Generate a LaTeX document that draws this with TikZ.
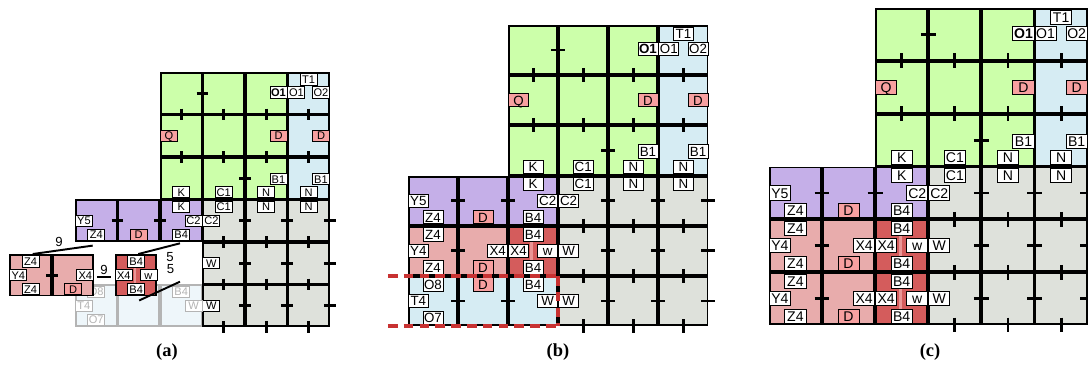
\documentclass[tikz,border=0pt]{standalone}
\usepackage{fontspec}
\setmainfont{Liberation Sans}
\newfontfamily\capfont{Liberation Serif}
\usetikzlibrary{calc}

\definecolor{cgreen}{RGB}{204,255,170}
\definecolor{cblue}{RGB}{214,236,243}
\definecolor{cgray}{RGB}{222,225,219}
\definecolor{cpurple}{RGB}{197,175,232}
\definecolor{cpink}{RGB}{232,172,172}
\definecolor{cred}{RGB}{212,92,92}
\definecolor{cstripe}{RGB}{234,150,150}
\definecolor{chot}{RGB}{247,160,160}
\definecolor{cfade}{RGB}{238,246,250}
\definecolor{cfadeline}{RGB}{180,180,180}
\definecolor{cdash}{RGB}{200,50,50}

\newcommand\cellw{1cm}
\newcommand\lblfs{8}
\newcommand\pfx{x}

\tikzset{
  cellbox/.style={draw=black,line width=1.1pt},
  fadebox/.style={draw=cfadeline,line width=1.1pt,fill=cfade},
  lbl/.style={draw=black,line width=0.5pt,fill=white,inner sep=0.3pt,
    minimum width=0.40*\cellw,minimum height=0.265*\cellw,
    text height={0.72*\lblfs pt},text depth=0pt,
    font=\fontsize{\lblfs}{\lblfs}\selectfont},
  boldlbl/.style={lbl,font=\fontsize{\lblfs}{\lblfs}\selectfont\bfseries},
  hot/.style={lbl,fill=chot},
  faded/.style={lbl,draw=cfadeline,text=cfadeline},
  tickmark/.style={line width=1.6pt},
  link/.style={line width=1.1pt},
  num/.style={font=\fontsize{7.5}{7.5}\selectfont,inner sep=0.5pt},
  dashbox/.style={draw=cdash,line width=2pt,dash pattern=on 5.5pt off 3.5pt},
  caption/.style={font=\capfont\bfseries\fontsize{10.5}{12}\selectfont}
}

% one cell of the grid, inset so that neighbours give a double line
\newcommand\cellat[3]{\filldraw[cellbox,fill=#3] ($(#1,#2)+(0.55pt,-0.55pt)$) rectangle ($(#1,#2)+(1,1)+(-0.55pt,0.55pt)$);}
\newcommand\fadecell[2]{\filldraw[fadebox] ($(#1,#2)+(0.55pt,-0.55pt)$) rectangle ($(#1,#2)+(1,1)+(-0.55pt,0.55pt)$);}
% ticks across a vertical / horizontal cell border
\newcommand\tickh[2]{\draw[tickmark] (#1-0.14,#2+0.5) -- (#1+0.14,#2+0.5);}
\newcommand\tickv[2]{\draw[tickmark] (#1+0.5,#2-0.14) -- (#1+0.5,#2+0.14);}
\newcommand\lab[5][lbl]{\node[#1,anchor=#3] (\pfx-#2) at (#4) {#5};}

% rows shared by the three panels
\newcommand\toprows{%
  \foreach \c in {2,3,4}{\foreach \r in {0,1,2}{\cellat{\c}{\r}{cgreen}}}
  \foreach \r in {0,1,2}{\cellat{5}{\r}{cblue}}
  \foreach \c in {0,1,2}{\cellat{\c}{3}{cpurple}}
  \foreach \c in {3,4,5}{\foreach \r in {3,4,5}{\cellat{\c}{\r}{cgray}}}
  \tickh{3}{0}
  \foreach \c in {2,3,4,5}{\tickv{\c}{1}\tickv{\c}{2}}
  \tickh{4}{2}
  \foreach \x in {1,2,4,5,6}{\tickh{\x}{3}}
  \foreach \c in {3,4,5}{\tickv{\c}{4}\tickv{\c}{5}\tickv{\c}{6}}
  \foreach \x in {4,5,6}{\tickh{\x}{4}\tickh{\x}{5}}
  \lab{T1}{north}{5.5,0.03}{T1}
  \lab[boldlbl]{O1b}{east}{5,0.48}{O1}
  \lab{O1}{west}{5,0.48}{O1}
  \lab{O2}{east}{6,0.48}{O2}
  \lab[hot]{Q}{west}{2,1.5}{Q}
  \lab[hot]{Dg}{east}{5,1.5}{D}
  \lab[hot]{Db}{east}{6,1.5}{D}
  \lab{B1g}{east}{5,2.52}{B1}
  \lab{B1b}{east}{6,2.52}{B1}
  \lab{Ku}{south}{2.5,2.97}{K}
  \lab{C1u}{south}{3.5,2.97}{C1}
  \lab{Ngu}{south}{4.5,2.97}{N}
  \lab{Nbu}{south}{5.5,2.97}{N}
  \lab{Kd}{north}{2.5,3.03}{K}
  \lab{C1d}{north}{3.5,3.03}{C1}
  \lab{Ngd}{north}{4.5,3.03}{N}
  \lab{Nbd}{north}{5.5,3.03}{N}
  \lab{Y5}{west}{0,3.5}{Y5}
  \lab{Zp}{south}{0.5,3.97}{Z4}
  \lab[hot]{Dp}{south}{1.5,3.97}{D}
  \lab{Bp}{south}{2.5,3.97}{B4}
  \lab{C2p}{east}{3,3.5}{C2}
  \lab{C2g}{west}{3,3.5}{C2}
  \lab{W4}{west}{3,4.5}{W}
  \lab{W5}{west}{3,5.5}{W}}

% pink pair and red cell of one row
\newcommand\pinkpair[1]{%
  \cellat{0}{#1}{cpink}\cellat{1}{#1}{cpink}
  \tickh{1}{#1}
  \lab{Zt#1}{north}{0.5,#1+0.03}{Z4}
  \lab{Y#1}{west}{0,#1+0.5}{Y4}
  \lab{Zb#1}{south}{0.5,#1+0.97}{Z4}
  \lab{Xl#1}{east}{2,#1+0.5}{X4}
  \lab[hot]{D#1}{south}{1.5,#1+0.97}{D}}
\newcommand\redcell[1]{%
  \cellat{2}{#1}{cred}
  \fill[cstripe] (2.44,#1+0.05) rectangle (2.50,#1+0.95);
  \lab{Bt#1}{north}{2.5,#1+0.03}{B4}
  \lab{Xr#1}{west}{2,#1+0.5}{X4}
  \lab{w#1}{east}{3,#1+0.5}{w}
  \lab{Bb#1}{south}{2.5,#1+0.97}{B4}}

\begin{document}
\begin{tikzpicture}[x=0.02cm,y=-0.02cm]
\useasboundingbox (0,0) rectangle (1088,369);

% (a)
\begin{scope}[shift={(1.50cm,-1.44cm)},x=0.85cm,y=-0.85cm]
\def\cellw{0.85cm}\def\lblfs{6.3}\def\pfx{a}
\toprows
\draw[line width=1.8pt] (3,5) -- (6,5);
\foreach \c in {0,1,2}{\fadecell{\c}{5}}
\lab[faded]{O8}{north}{0.5,5.03}{O8}
\lab[faded]{T4}{west}{0,5.5}{T4}
\lab[faded]{O7}{south}{0.5,5.97}{O7}
\lab[faded]{Bf}{north}{2.5,5.03}{B4}
\lab[faded]{Wf}{east}{3,5.5}{W}
\begin{scope}[shift={(-1.545,0.283)}]
\pinkpair{4}
\end{scope}
\begin{scope}[shift={(-1.06,0.283)}]
\redcell{4}
\end{scope}
\draw[link] ($(a-Zt4.north)+(1.2pt,0.7pt)$) -- node[num,pos=0.44,above=1pt] (a-n9a) {9} ($(a-Zp.south)+(-2pt,-2.8pt)$);
\draw[link] ($(a-Xl4.east)+(1.7pt,-1.1pt)$) -- node[num,above=0.5pt] (a-n9b) {9} ($(a-Xr4.west)+(-2.5pt,-1.1pt)$);
\draw[link] ($(a-Bt4.north)+(1.2pt,0.7pt)$) -- node[num,pos=0.76,below=2.5pt] (a-n5a) {5} ($(a-Bp.south)+(-0.7pt,-1.5pt)$);
\draw[link] ($(a-Bb4.south)+(1.7pt,-3pt)$) -- node[num,pos=0.77,above=6pt] (a-n5b) {5} ($(a-Bf.north)+(-0.7pt,2.3pt)$);
\end{scope}

% (b)
\begin{scope}[shift={(8.16cm,-0.50cm)},x=1.002cm,y=-1.004cm]
\def\cellw{1.0cm}\def\lblfs{7.6}\def\pfx{b}
\toprows
\pinkpair{4}
\redcell{4}
\foreach \c in {0,1,2}{\cellat{\c}{5}{cblue}}
\tickh{1}{5}\tickh{2}{5}
\lab{O8}{north}{0.5,5.03}{O8}
\lab{T4}{west}{0,5.5}{T4}
\lab{O7}{south}{0.5,5.97}{O7}
\lab[hot]{D5}{north}{1.5,5.03}{D}
\lab{B5}{north}{2.5,5.03}{B4}
\lab{Wb}{east}{3,5.5}{W}
\draw[dashbox] (-0.4,5) -- (3.04,5);
\draw[dashbox] (3,5) -- (3,6);
\draw[dashbox] (-0.4,6) -- (3.04,6);
\end{scope}

% (c)
\begin{scope}[shift={(15.38cm,-0.16cm)},x=1.063cm,y=-1.057cm]
\def\cellw{1.06cm}\def\lblfs{8.0}\def\pfx{c}
\toprows
\pinkpair{4}
\redcell{4}
\pinkpair{5}
\redcell{5}
\end{scope}

\node[caption] (capa) at (167,352) {(a)};
\node[caption] (capb) at (558,352) {(b)};
\node[caption] (capc) at (930,352) {(c)};
\end{tikzpicture}
\end{document}
